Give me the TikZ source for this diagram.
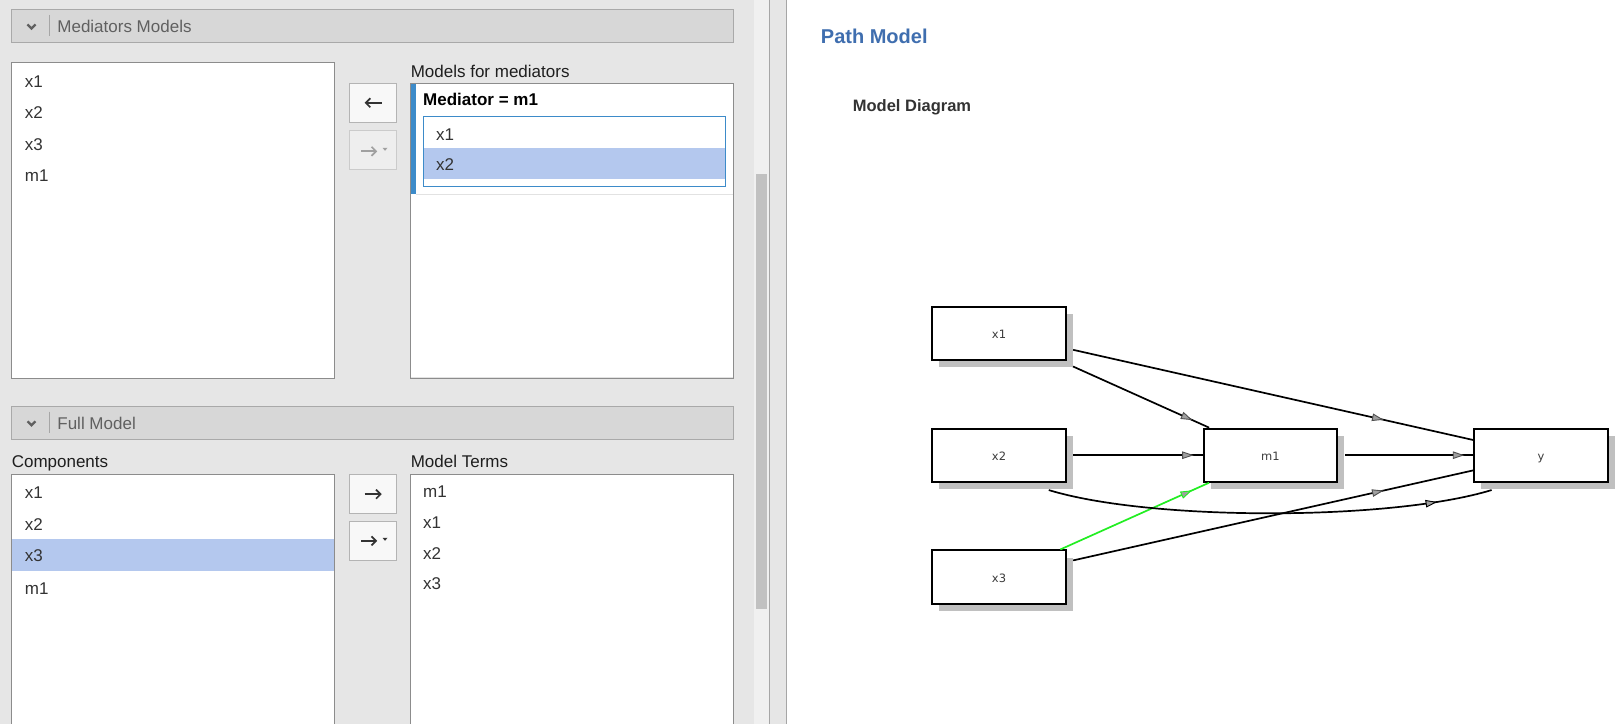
\documentclass[tikz,border=0pt]{standalone}
\usepackage{fontspec}
\setmainfont{Liberation Sans}
\newfontfamily\diagfont{DejaVu Sans}
\usetikzlibrary{arrows.meta,decorations.markings,shadows}
\definecolor{uibg}{HTML}{E6E6E6}
\definecolor{hdrfill}{HTML}{D7D7D7}
\definecolor{hdrline}{HTML}{A9A9A9}
\definecolor{listline}{HTML}{8C8C8C}
\definecolor{selblue}{HTML}{B4C8EE}
\definecolor{accent}{HTML}{3D8BC9}
\definecolor{titleblue}{HTML}{3F6EAF}
\definecolor{track}{HTML}{F0F0F0}
\definecolor{thumb}{HTML}{C1C1C1}
\definecolor{shadowgray}{HTML}{C0C0C0}
\definecolor{arrowgray}{HTML}{A0A0A0}
\definecolor{arrowline}{HTML}{505050}
\definecolor{edgegreen}{HTML}{22EE22}
\definecolor{btnfill}{HTML}{F8F8F8}
\definecolor{btnline}{HTML}{B4B4B4}
\definecolor{dbtnfill}{HTML}{EEEEEE}
\definecolor{dbtnline}{HTML}{CBCBCB}
\definecolor{uitext}{HTML}{333333}
\definecolor{labeltext}{HTML}{1E1E1E}
\definecolor{hdrtext}{HTML}{606060}
\definecolor{nodetext}{HTML}{3C3C3C}
\definecolor{icondark}{HTML}{333333}
\definecolor{icongray}{HTML}{A0A0A0}
\definecolor{faint}{HTML}{E2E2E2}
\definecolor{sepgray}{HTML}{A6A6A6}
\newcommand\uifont{\fontsize{17bp}{20bp}\selectfont}
\newcommand\nodefont{\diagfont\fontsize{11.5bp}{13bp}\selectfont}
\begin{document}
\begin{tikzpicture}[x=1bp,y=-1bp,
  ui/.style={font=\uifont, inner sep=0pt, anchor=base west, text=uitext},
  uilabel/.style={ui, text=labeltext},
  hdrtitle/.style={ui, text=hdrtext},
  hdrbar/.style={fill=hdrfill, draw=hdrline, line width=1bp},
  listbox/.style={fill=white, draw=listline, line width=1bp},
  btn/.style={fill=btnfill, draw=btnline, line width=1bp},
  dbtn/.style={fill=dbtnfill, draw=dbtnline, line width=1bp},
  icon/.style={line width=1.7bp, draw=icondark},
  chev/.style={line width=2.2bp, draw=hdrtext},
  pbox/.style={draw=black, line width=1.9bp, fill=white, minimum width=133.5bp, minimum height=53.2bp, inner sep=0pt, font=\nodefont, text=nodetext, text height=11bp, text depth=0bp, drop shadow={shadow xshift=7bp, shadow yshift=-7.3bp, fill=shadowgray, opacity=1}},
  edge/.style={line width=1.7bp, draw=black},
  midarrow/.style 2 args={postaction={decorate}, decoration={markings, mark=at position #1 with {\arrow{Triangle[length=11.5bp,width=7.5bp,color=#2,fill=arrowgray,line width=0.9bp]}}}}
]
\useasboundingbox (0,0) rectangle (1621,724);
% backgrounds
\fill[uibg] (0,0) rectangle (754,724);
\fill[track] (754,0) rectangle (769.3,724);
\fill[thumb] (756,174) rectangle (767,609);
\fill[uibg] (769.3,0) rectangle (786.3,724);
\fill[white] (786.3,0) rectangle (1621,724);
\draw[sepgray, line width=1bp] (769.3,0) -- (769.3,724);
\draw[sepgray, line width=1bp] (786.3,0) -- (786.3,724);
% header 1
\draw[hdrbar] (11,9.3) rectangle (733.4,42.7);
\draw[chev] (27.5,24.5) -- (31.5,28.5) -- (35.5,24.5);
\draw[sepgray, line width=1bp] (49.4,15) -- (49.4,36);
\node[hdrtitle] (t1) at (57.2,32.3) {Mediators Models};
% list 1
\draw[listbox] (11,62.3) rectangle (334.5,378.5);
\node[ui] (la) at (24.7,87.3) {x1};
\node[ui] (lb) at (24.7,118.8) {x2};
\node[ui] (lc) at (24.7,150.3) {x3};
\node[ui] (ld) at (24.7,181.8) {m1};
% buttons 1
\draw[btn] (349,83.3) rectangle (396.5,122.3);
\draw[icon] (381.5,102.8) -- (366,102.8);
\draw[icon] (370.3,98.3) -- (365.8,102.8) -- (370.3,107.3);
\draw[dbtn] (349,130.3) rectangle (396.5,169.3);
\draw[icon, draw=icongray] (361,151.3) -- (375.6,151.3);
\draw[icon, draw=icongray] (371.5,146.8) -- (376,151.3) -- (371.5,155.8);
\fill[icongray] (382.5,147.8) -- (387.5,147.8) -- (385,150.8) -- cycle;
% mediators box
\node[uilabel] (mfm) at (410.6,77.3) {Models for mediators};
\draw[listbox] (410.6,83.3) rectangle (733.4,378.5);
\fill[accent] (411.1,83.8) rectangle (415.6,194);
\draw[faint, line width=1bp] (415.6,194.3) -- (732.9,194.3);
\draw[faint, line width=1bp] (411.1,377.3) -- (732.9,377.3);
\node[ui, font=\uifont\bfseries, text=black] (med) at (423,106) {Mediator = m1};
\draw[fill=white, draw=accent, line width=1bp] (423,116.3) rectangle (725.6,186);
\fill[selblue] (423.5,148) rectangle (725.1,178.7);
\node[ui] (ia) at (436,140.7) {x1};
\node[ui] (ib) at (436,170.3) {x2};
% header 2
\draw[hdrbar] (11,406.3) rectangle (733.4,439.3);
\draw[chev] (27.5,421.3) -- (31.5,425.3) -- (35.5,421.3);
\draw[sepgray, line width=1bp] (49.4,411.7) -- (49.4,433.3);
\node[hdrtitle] (t2) at (57.2,429.3) {Full Model};
% components
\node[uilabel] (comp) at (11.6,467.5) {Components};
\draw[listbox] (11,474.7) rectangle (334.5,730);
\fill[selblue] (11.5,539.3) rectangle (334,570.7);
\node[ui] (ca) at (24.7,498.3) {x1};
\node[ui] (cb) at (24.7,530.3) {x2};
\node[ui] (cc) at (24.7,561.7) {x3};
\node[ui] (cd) at (24.7,594) {m1};
% buttons 2
\draw[btn] (349,474.7) rectangle (396.5,513.3);
\draw[icon] (364.5,494.2) -- (380,494.2);
\draw[icon] (376,489.7) -- (380.5,494.2) -- (376,498.7);
\draw[btn] (349,521.3) rectangle (396.5,560.3);
\draw[icon] (361,540.8) -- (375.6,540.8);
\draw[icon] (371.5,536.3) -- (376,540.8) -- (371.5,545.3);
\fill[icondark] (382.5,537.8) -- (387.5,537.8) -- (385,540.8) -- cycle;
% model terms
\node[uilabel] (mt) at (410.6,467.5) {Model Terms};
\draw[listbox] (410.6,474.7) rectangle (733.4,730);
\node[ui] (ma) at (423,497.3) {m1};
\node[ui] (mb) at (423,528.3) {x1};
\node[ui] (mc) at (423,559) {x2};
\node[ui] (md) at (423,589.3) {x3};
% right panel
\node[ui, font=\fontsize{20bp}{24bp}\selectfont\bfseries, text=titleblue] (pm) at (820.7,44) {Path Model};
\node[ui, font=\fontsize{16.5bp}{20bp}\selectfont\bfseries, text=black!80] (mdg) at (852.7,111.5) {Model Diagram};
% diagram
\node[pbox] (x1) at (999,333.2) {x1};
\node[pbox] (x2) at (999,455.2) {x2};
\node[pbox] (x3) at (999,577) {x3};
\node[pbox] (m1) at (1270.4,455.2) {m1};
\node[pbox] (yy) at (1541,455.2) {y};
\draw[edge, shorten <=6.6bp, midarrow={-92bp}{arrowline}] (x1) -- (yy);
\draw[edge, shorten <=14bp, midarrow={-18.4bp}{arrowline}] (x1) -- (m1);
\draw[edge, shorten <=6.4bp, midarrow={-9bp}{arrowline}] (x2) -- (m1);
\draw[edge, shorten <=7bp, midarrow={-9bp}{arrowline}] (m1) -- (yy);
\draw[edge, draw=edgegreen, midarrow={-18.7bp}{edgegreen}] (x3) -- (m1);
\draw[edge, shorten <=6.6bp, midarrow={-92bp}{arrowline}] (x3) -- (yy);
\draw[edge, midarrow={0.875}{black}] ([shift={(49.75,7.3)}]x2.south) .. controls +(101,31) and +(-101.6,31) .. ([shift={(-49.4,7.3)}]yy.south);
\end{tikzpicture}
\end{document}
